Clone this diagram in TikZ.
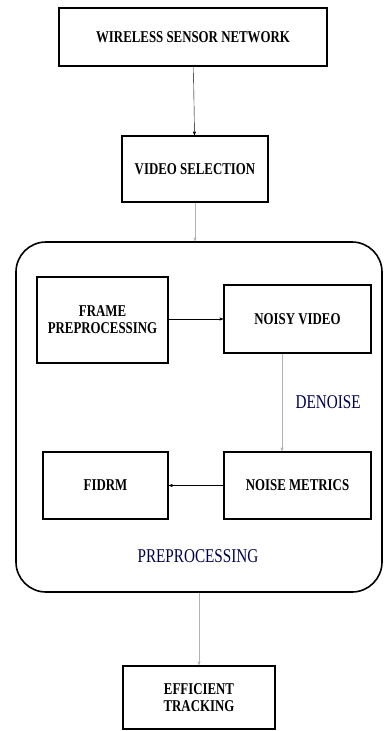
\documentclass[tikz,border=0pt]{standalone}
\usepackage{fontspec}
\setmainfont{Liberation Serif}
\newfontfamily\narrowserif[FakeStretch=0.78]{Liberation Serif}
\usetikzlibrary{arrows}

\begin{document}
\begin{tikzpicture}[x=1pt,y=-1pt,>=stealth',auto,
    block/.style={draw,line width=1.8pt,align=center,inner sep=2pt,
        font=\narrowserif\fontsize{16.5}{17}\selectfont\bfseries},
    group/.style={draw,line width=1.6pt,rounded corners=30pt},
    caption/.style={font=\narrowserif\fontsize{19.5}{21}\selectfont,text=blue!30!black},
    flow/.style={->,thin},
    faint/.style={->,thin,black!30}]
    \useasboundingbox (0,0) rectangle (384,731);

    %define the blocks of the chain
    \node[block,minimum width=268pt,minimum height=58pt] (wsn) at (193,37) {WIRELESS SENSOR NETWORK};
    \node[block,minimum width=146pt,minimum height=66pt] (vsel) at (195,169) {VIDEO SELECTION};
    \node[group,minimum width=366pt,minimum height=350pt] (prep) at (199,417) {};
    \node[block,minimum width=131pt,minimum height=86pt] (frame) at (102.5,320) {FRAME\\PREPROCESSING};
    \node[block,minimum width=147pt,minimum height=68pt] (noisy) at (297.5,319) {NOISY VIDEO};
    \node[block,minimum width=125pt,minimum height=67pt] (fidrm) at (105.5,485.5) {FIDRM};
    \node[block,minimum width=147pt,minimum height=67pt] (metrics) at (297.5,485.5) {NOISE METRICS};
    \node[caption] (preplbl) at (198,556) {PREPROCESSING};
    \node[block,minimum width=152pt,minimum height=63pt] (track) at (199,697.5) {EFFICIENT\\TRACKING};

    % define the links
    \draw[flow] (wsn) -- (vsel);
    \draw[faint] (vsel.south) -- (vsel.south |- prep.north);
    \draw[flow] (frame.east |- noisy) -- (noisy);
    \draw[faint] (noisy.south -| 282,0) -- node[caption,xshift=10pt] {DENOISE} (metrics.north -| 282,0);
    \draw[flow] (metrics) -- (fidrm);
    \draw[faint] (prep.south -| track) -- (track);
\end{tikzpicture}
\end{document}
